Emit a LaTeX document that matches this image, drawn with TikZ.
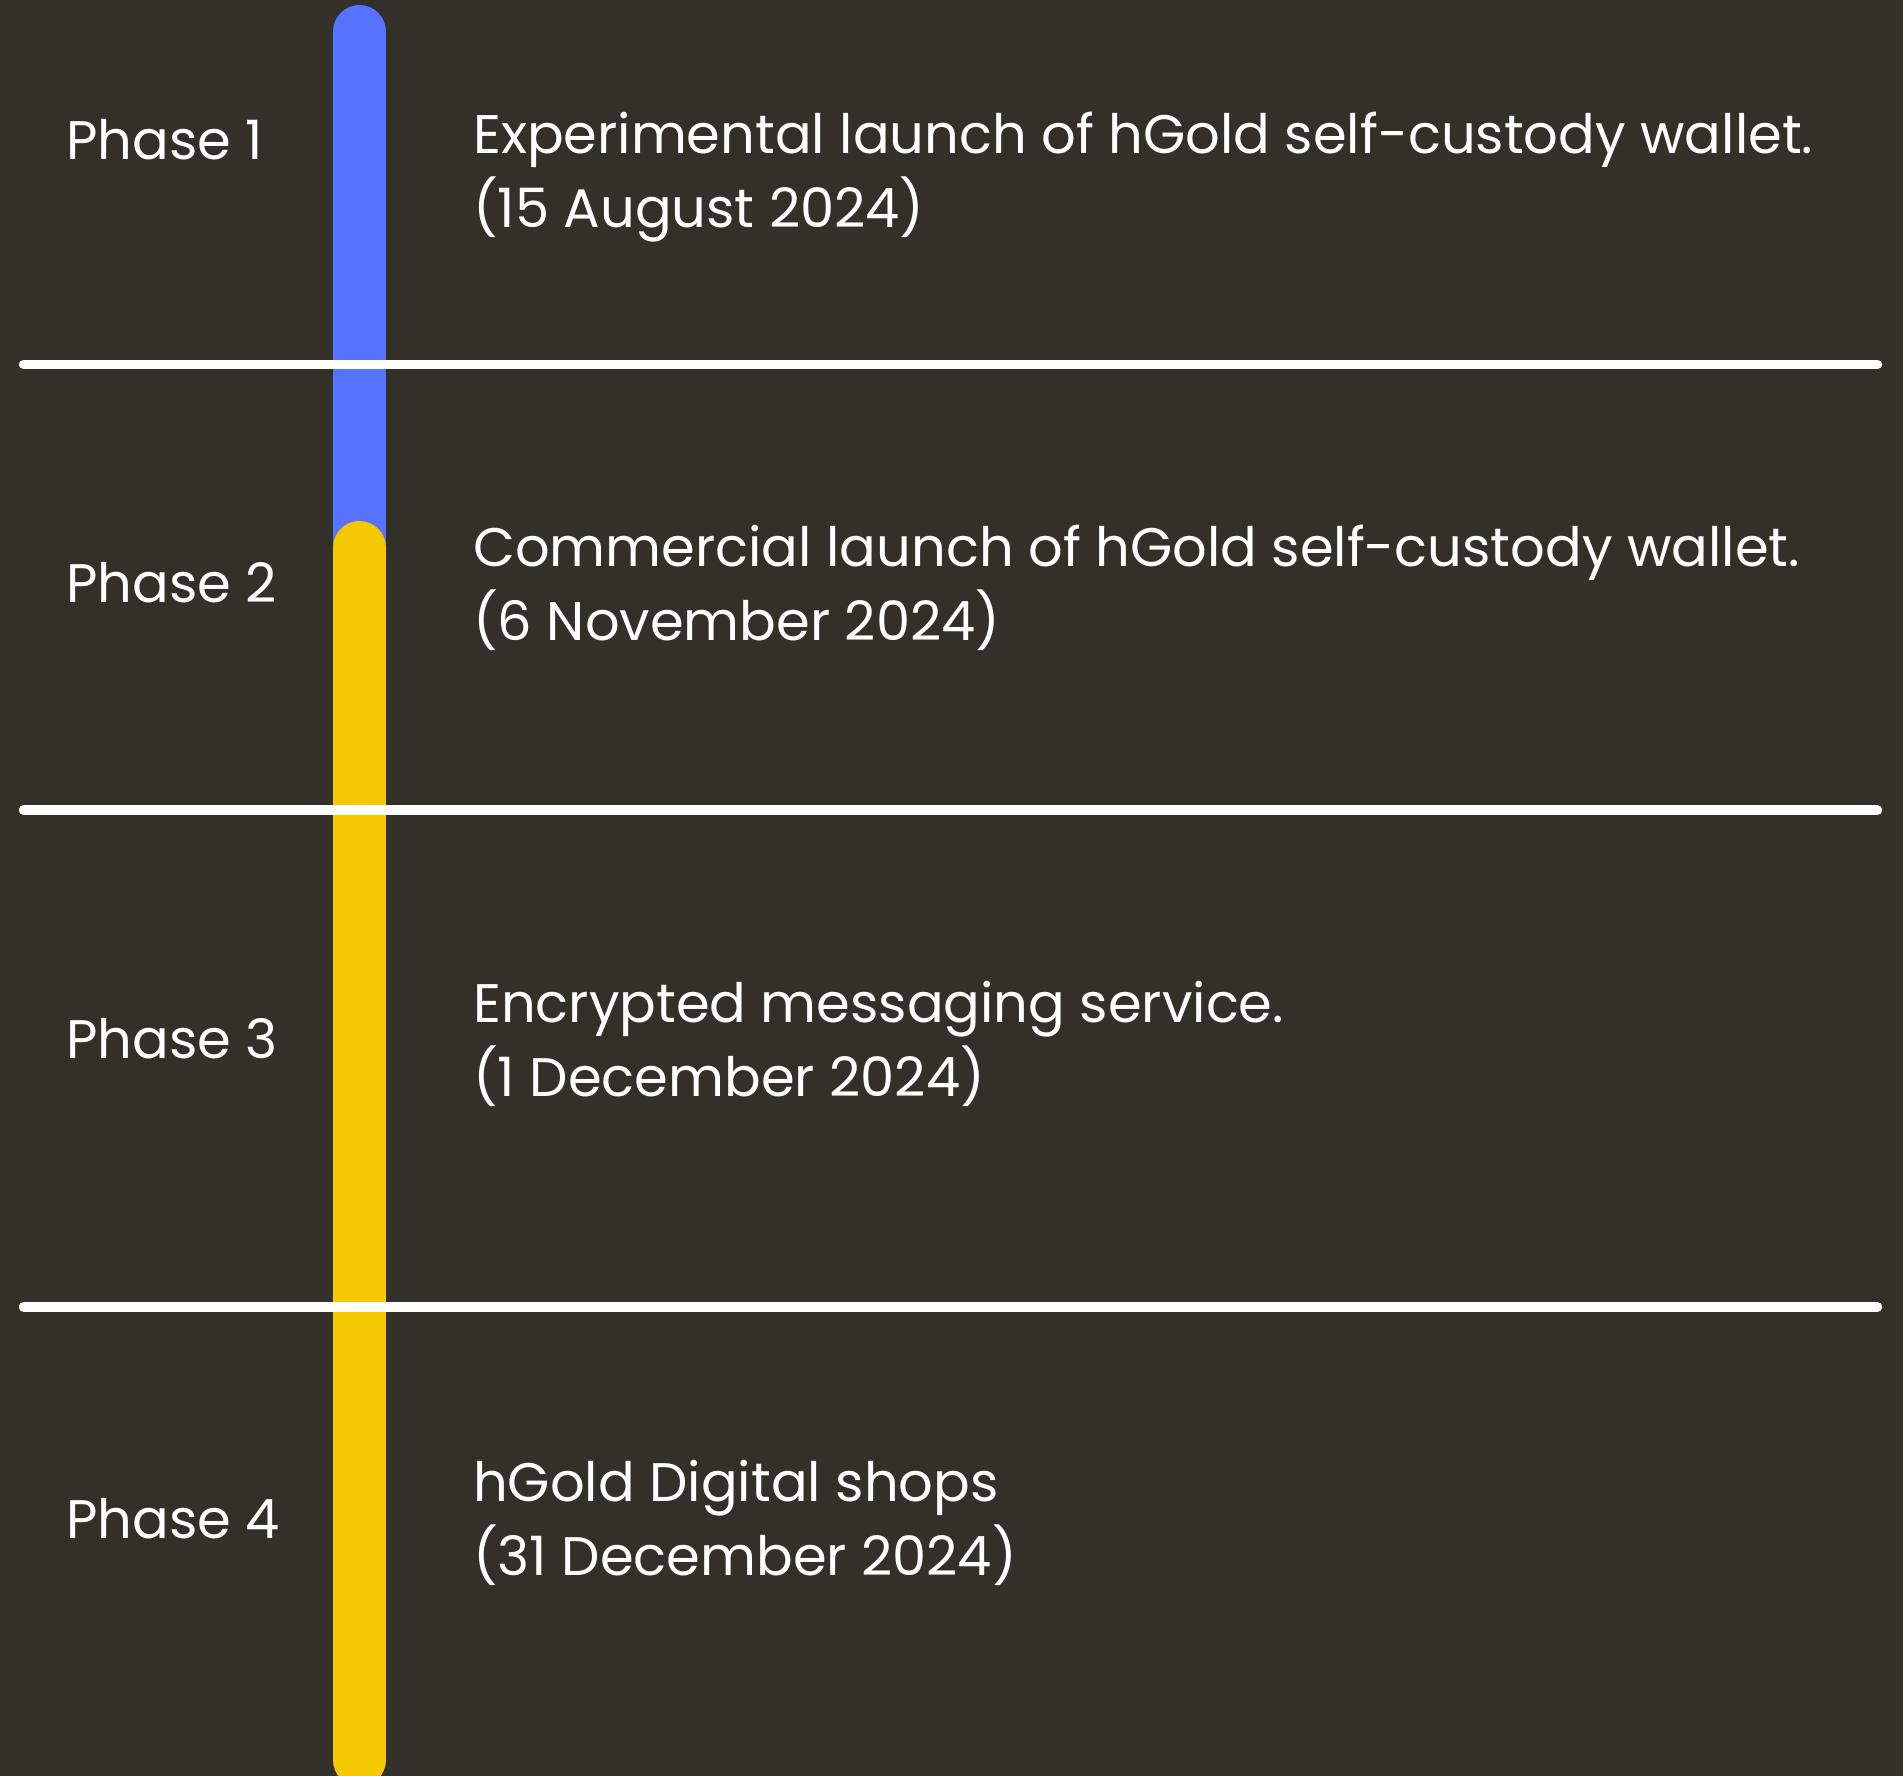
\documentclass[tikz,border=0pt]{standalone}
\usepackage{fontspec}
\setmainfont{Poppins}
\usetikzlibrary{positioning}
\definecolor{roadbg}{HTML}{33302A}
\definecolor{roadblue}{HTML}{5573FF}
\definecolor{roadgold}{HTML}{F5C800}

\begin{document}
\begin{tikzpicture}[
 x = 1pt, y = -1pt,
 phase/.style = {anchor=base west, inner sep=0pt, text=white,
                 font=\fontsize{54.3}{74}\selectfont},
  goal/.style = {phase, align=left},   % base = last line
   sep/.style = {line width=9.5pt, white, line cap=round},
   bar/.style = {line width=53pt, line cap=round},
                    ]
\useasboundingbox (0,0) rectangle (1903,1776);
\fill[roadbg] (0,0) rectangle (1903,1776);
    \begin{scope}
\clip (0,0) rectangle (1903,1776);
\draw[bar, roadblue] (359.5,31.5) -- (359.5,600);
\draw[bar, roadgold] (359.5,547.5) -- (359.5,1760);
    \end{scope}
\foreach \y in {364.5,810,1307}
    \draw[sep] (23.5,\y) -- (1877.5,\y);
\foreach \yp/\yg/\txt [count=\j] in
    {160/228/{Experimental launch of hGold self-custody wallet.\\(15 August 2024)},
     602/640/{Commercial launch of hGold self-custody wallet.\\(6 November 2024)},
     1058/1096/{Encrypted messaging service.\\(1 December 2024)},
     1538/1575/{hGold Digital shops\\(31 December 2024)}}
  {
    \node[phase] (P-\j) at (66,\yp) {Phase \j};
    \node[goal]  (G-\j) at (473,\yg) {\txt};
  }
\end{tikzpicture}
\end{document}
